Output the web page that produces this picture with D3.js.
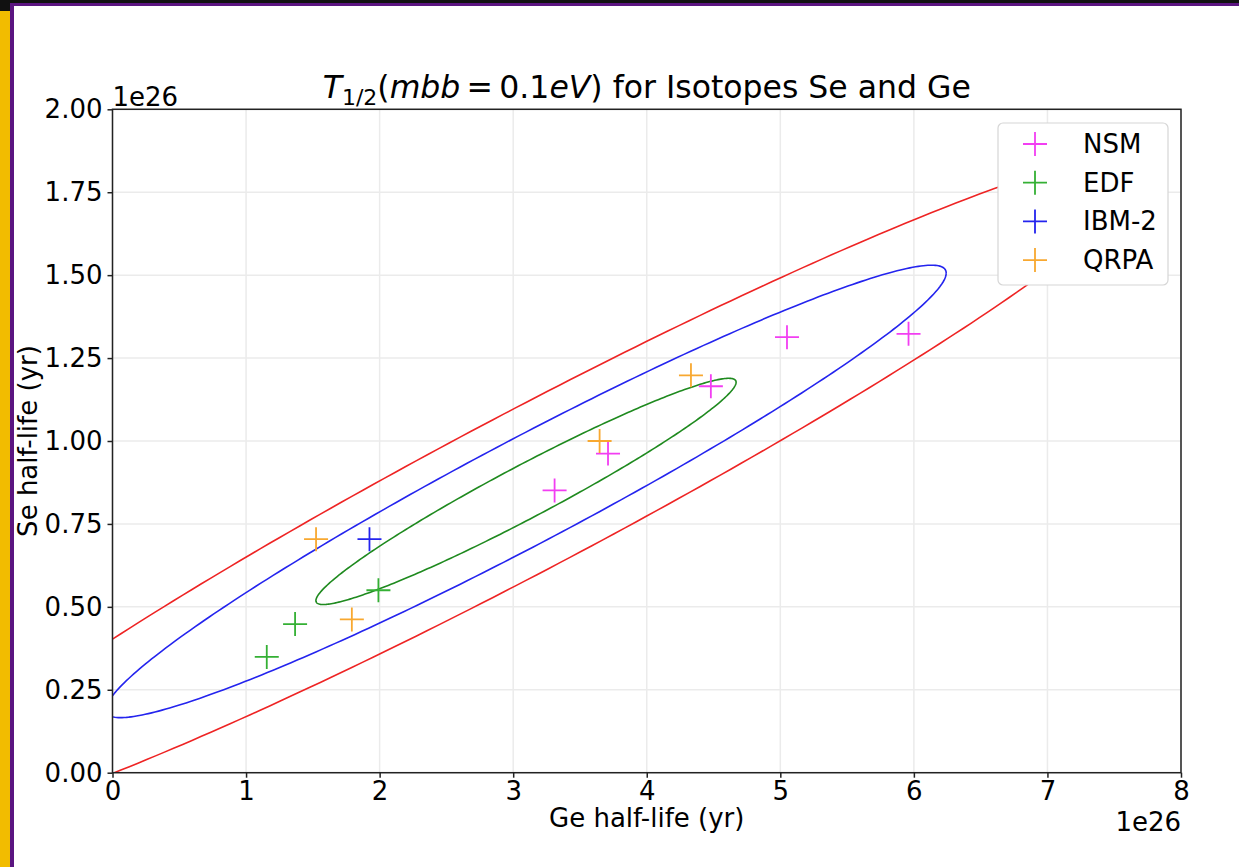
<!DOCTYPE html>
<html>
<head>
<meta charset="utf-8">
<script src="https://cdn.jsdelivr.net/npm/d3@7"></script>
<style>
  html, body { margin: 0; padding: 0; background: #fff; }
  svg { display: block; font-family: 'DejaVu Sans', sans-serif; }
</style>
</head>
<body>
<div id="chart"></div>
<script>
// values in units of 1e26 yr
const xTicks = [0, 1, 2, 3, 4, 5, 6, 7, 8];
const yTicks = [0, 0.25, 0.5, 0.75, 1.0, 1.25, 1.5, 1.75, 2.0];

const seriesNames = ['NSM', 'EDF', 'IBM-2', 'QRPA'];
const seriesColors = ['#f23ef2', '#34b034', '#2424ee', '#f8a830'];

const nsmGe = [3.31, 3.71, 4.48, 5.05, 5.96];
const nsmSe = [0.851, 0.962, 1.165, 1.313, 1.323];
const edfGe = [1.155, 1.367, 1.991];
const edfSe = [0.349, 0.448, 0.550];
const ibmGe = [1.924];
const ibmSe = [0.704];
const qrpaGe = [1.524, 1.792, 3.647, 4.331];
const qrpaSe = [0.704, 0.462, 1.000, 1.198];

// confidence ellipses: shared centre / spread, drawn at 1, 2, 3 sigma
const ellipseCenter = [3.096, 0.848];
const ellipseSigma = [1.573, 0.341];
const ellipseRho = 0.965;
const ellipseLevels = [1, 2, 3];
const ellipseColors = ['#1f8a1f', '#2424ee', '#ee2424'];

const W = 1239, H = 867;
const svg = d3.select('#chart').append('svg').attr('width', W).attr('height', H);

// slide frame strips
svg.append('rect').attr('x', 0).attr('y', 0).attr('width', W).attr('height', 3).attr('fill', '#111');
svg.append('rect').attr('x', 10).attr('y', 3).attr('width', W - 10).attr('height', 3).attr('fill', '#5b1580');
svg.append('rect').attr('x', 0).attr('y', 11).attr('width', 10).attr('height', H - 11).attr('fill', '#f2bc00');
svg.append('rect').attr('x', 0).attr('y', 0).attr('width', 10).attr('height', 11).attr('fill', '#111');
svg.append('rect').attr('x', 10).attr('y', 3).attr('width', 4).attr('height', H - 3).attr('fill', '#5b1580');

const x = d3.scaleLinear().domain([0, 8]).range([112.5, 1181]);
const y = d3.scaleLinear().domain([0, 2]).range([772.7, 109.3]);
const [x0, x1] = x.range();
const [y0, y1] = y.range();

// grid
const grid = svg.append('g').attr('stroke', '#ebebeb').attr('stroke-width', 1.5);
grid.selectAll('line.gx').data(xTicks).enter().append('line')
  .attr('x1', d => x(d)).attr('x2', d => x(d)).attr('y1', y1).attr('y2', y0);
grid.selectAll('line.gy').data(yTicks).enter().append('line')
  .attr('y1', d => y(d)).attr('y2', d => y(d)).attr('x1', x0).attr('x2', x1);

svg.append('clipPath').attr('id', 'plotclip').append('rect')
  .attr('x', x0).attr('y', y1).attr('width', x1 - x0).attr('height', y0 - y1);

// ellipses
const phi = Math.acos(ellipseRho);
const ts = d3.range(0, 2 * Math.PI + 0.001, Math.PI / 180);
const line = d3.line().x(d => x(d[0])).y(d => y(d[1]));
svg.append('g').attr('clip-path', 'url(#plotclip)')
  .selectAll('path').data(ellipseLevels).enter().append('path')
  .attr('fill', 'none')
  .attr('stroke', (d, i) => ellipseColors[i])
  .attr('stroke-width', 1.6)
  .attr('d', k => line(ts.map(t => [
    ellipseCenter[0] + k * ellipseSigma[0] * Math.cos(t),
    ellipseCenter[1] + k * ellipseSigma[1] * Math.cos(t - phi)
  ])));

// markers
const plus = 'M-12,0H12M0,-12V12';
const series = [[nsmGe, nsmSe], [edfGe, edfSe], [ibmGe, ibmSe], [qrpaGe, qrpaSe]];
series.forEach(([gx, sy], i) => {
  svg.append('g').selectAll('path').data(gx.map((g, j) => [g, sy[j]])).enter().append('path')
    .attr('transform', d => `translate(${x(d[0])},${y(d[1])})`)
    .attr('d', plus).attr('fill', 'none')
    .attr('stroke', seriesColors[i]).attr('stroke-width', 1.8);
});

// spines
svg.append('rect').attr('x', x0).attr('y', y1).attr('width', x1 - x0).attr('height', y0 - y1)
  .attr('fill', 'none').attr('stroke', '#222').attr('stroke-width', 1.5);

// axes
const xAxis = svg.append('g').attr('transform', `translate(0,${y0})`)
  .call(d3.axisBottom(x).tickValues(xTicks).tickFormat(d3.format('d')).tickSize(5).tickPadding(4));
const yAxis = svg.append('g').attr('transform', `translate(${x0},0)`)
  .call(d3.axisLeft(y).tickValues(yTicks).tickFormat(d3.format('.2f')).tickSize(5).tickPadding(5));
[xAxis, yAxis].forEach(a => {
  a.select('.domain').remove();
  a.selectAll('line').attr('stroke', '#222').attr('stroke-width', 1.5);
  a.selectAll('text').attr('font-family', "'DejaVu Sans', sans-serif").attr('font-size', 26).attr('fill', '#000');
});

// offset texts
svg.append('text').attr('x', x0).attr('y', 106).attr('font-size', 26).text('1e26');
svg.append('text').attr('x', x1).attr('y', 831).attr('text-anchor', 'end').attr('font-size', 26).text('1e26');

// axis labels
svg.append('text').attr('x', (x0 + x1) / 2).attr('y', 827).attr('text-anchor', 'middle')
  .attr('font-size', 26).text('Ge half-life (yr)');
svg.append('text').attr('transform', `translate(36.5,${(y0 + y1) / 2}) rotate(-90)`)
  .attr('text-anchor', 'middle').attr('font-size', 26).text('Se half-life (yr)');

// title with math part
const title = svg.append('text').attr('x', (x0 + x1) / 2).attr('y', 98)
  .attr('text-anchor', 'middle').attr('font-size', 31.5);
title.append('tspan').attr('font-style', 'italic').text('T');
title.append('tspan').attr('font-size', 22).attr('dy', 7).text('1/2');
title.append('tspan').attr('dy', -7).text('(');
title.append('tspan').attr('font-style', 'italic').text('mbb');
title.append('tspan').text('\u2009=\u20090.1');
title.append('tspan').attr('font-style', 'italic').text('eV');
title.append('tspan').text(') for Isotopes Se and Ge');

// legend
const lg = svg.append('g');
lg.append('rect').attr('x', 998).attr('y', 123).attr('width', 170).attr('height', 162).attr('rx', 5)
  .attr('fill', '#fff').attr('stroke', '#d6d6d6').attr('stroke-width', 1.2);
seriesNames.forEach((name, i) => {
  const cy = 144 + i * 38.7;
  lg.append('path').attr('transform', `translate(1035,${cy})`).attr('d', plus)
    .attr('fill', 'none').attr('stroke', seriesColors[i]).attr('stroke-width', 1.8);
  lg.append('text').attr('x', 1083).attr('y', cy + 9).attr('font-size', 26).text(name);
});
</script>
</body>
</html>
